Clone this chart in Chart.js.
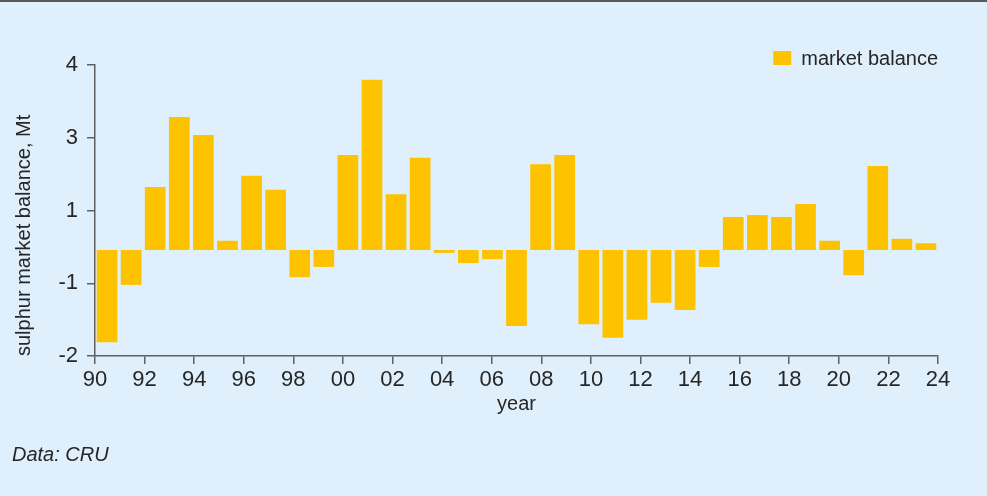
<!DOCTYPE html>
<html>
<head>
<meta charset="utf-8">
<script src="https://cdn.jsdelivr.net/npm/chart.js@4/dist/chart.umd.min.js"></script>
<style>
  html, body { margin: 0; padding: 0; background: #dff0fc; }
  #wrap { position: relative; width: 987px; height: 496px; }
  #topline { position: absolute; left: 0; top: 0; width: 987px; height: 2px; background: #5a5a5a; }
  #chart { position: absolute; left: 0; top: 0; }
</style>
</head>
<body>
<div id="wrap">
  <div id="topline"></div>
  <canvas id="chart" width="987" height="496"></canvas>
</div>
<script>
// sulphur market balance per year (Mt)
var years = [1990, 1991, 1992, 1993, 1994, 1995, 1996, 1997, 1998, 1999,
             2000, 2001, 2002, 2003, 2004, 2005, 2006, 2007, 2008, 2009,
             2010, 2011, 2012, 2013, 2014, 2015, 2016, 2017, 2018, 2019,
             2020, 2021, 2022, 2023, 2024];
var balance = [-1.90, -0.72, 1.30, 2.74, 2.37, 0.19, 1.53, 1.24, -0.56, -0.35,
               1.96, 3.51, 1.15, 1.90, -0.06, -0.27, -0.19, -1.57, 1.77, 1.96,
               -1.53, -1.81, -1.44, -1.09, -1.24, -0.35, 0.68, 0.72, 0.68, 0.95,
               0.19, -0.52, 1.73, 0.23, 0.14];

// 18 evenly spaced labels across the 35 yearly slots, as in the original
var xTickLabels = ['90', '92', '94', '96', '98', '00', '02', '04', '06',
                   '08', '10', '12', '14', '16', '18', '20', '22', '24'];
var xMin = 1990, xMax = 2025;

// the original value axis is labelled oddly: five evenly spaced ticks
var yMin = -2.186, yMax = 3.814;
var yTickValues = [-2.186, -0.686, 0.814, 2.314, 3.814];
var yTickLabels = ['-2', '-1', '1', '3', '4'];

var seriesName = 'market balance';

var textColor = '#262626';
var axisColor = '#606060';
var font = 'Liberation Sans, Arial, sans-serif';

var points = years.map(function (yr, i) {
  return { x: yr + 0.5, y: balance[i] };
});

var ctx = document.getElementById('chart').getContext('2d');
var chart = new Chart(ctx, {
  type: 'bar',
  data: {
    datasets: [{
      label: seriesName,
      data: points,
      backgroundColor: '#fdc300',
      borderWidth: 0,
      barPercentage: 0.86,
      categoryPercentage: 1
    }]
  },
  options: {
    responsive: false,
    animation: false,
    layout: {
      padding: { top: 49, right: 49, bottom: 0, left: 12 }
    },
    plugins: {
      legend: {
        position: 'top',
        align: 'end',
        maxHeight: 16,
        labels: {
          boxWidth: 18,
          boxHeight: 16,
          padding: 0,
          color: textColor,
          font: { family: font, size: 20 }
        }
      },
      subtitle: {
        display: true,
        position: 'bottom',
        align: 'start',
        text: 'Data: CRU',
        color: textColor,
        font: { family: font, size: 20, style: 'italic', weight: 'normal' },
        padding: { top: 0, bottom: 29 }
      },
      tooltip: { enabled: false }
    },
    scales: {
      x: {
        type: 'linear',
        min: xMin,
        max: xMax,
        offset: false,
        afterFit: function (scale) { scale.height = 87; },
        afterBuildTicks: function (scale) {
          var step = (xMax - xMin) / (xTickLabels.length - 1);
          scale.ticks = xTickLabels.map(function (lbl, i) {
            return { value: xMin + i * step };
          });
        },
        grid: {
          offset: false,
          drawOnChartArea: false,
          drawTicks: true,
          tickLength: 8,
          color: axisColor,
          lineWidth: 1.5
        },
        border: { display: true, color: axisColor, width: 1.5 },
        ticks: {
          padding: 3,
          maxRotation: 0,
          autoSkip: false,
          color: textColor,
          font: { family: font, size: 22 },
          callback: function (value, index) { return xTickLabels[index]; }
        },
        title: {
          display: true,
          text: 'year',
          color: textColor,
          font: { family: font, size: 20 },
          padding: { top: 0, bottom: 27 }
        }
      },
      y: {
        min: yMin,
        max: yMax,
        afterFit: function (scale) { scale.width = 83; },
        afterBuildTicks: function (scale) {
          scale.ticks = yTickValues.map(function (v) { return { value: v }; });
        },
        grid: {
          drawOnChartArea: false,
          drawTicks: true,
          tickLength: 8,
          color: axisColor,
          lineWidth: 1.5
        },
        border: { display: true, color: axisColor, width: 1.5 },
        ticks: {
          padding: 9,
          color: textColor,
          font: { family: font, size: 22 },
          callback: function (value, index) { return yTickLabels[index]; }
        },
        title: {
          display: true,
          text: 'sulphur market balance, Mt',
          align: 'start',
          color: textColor,
          font: { family: font, size: 20 },
          padding: { top: 0, bottom: 0 }
        }
      }
    }
  }
});
</script>
</body>
</html>
